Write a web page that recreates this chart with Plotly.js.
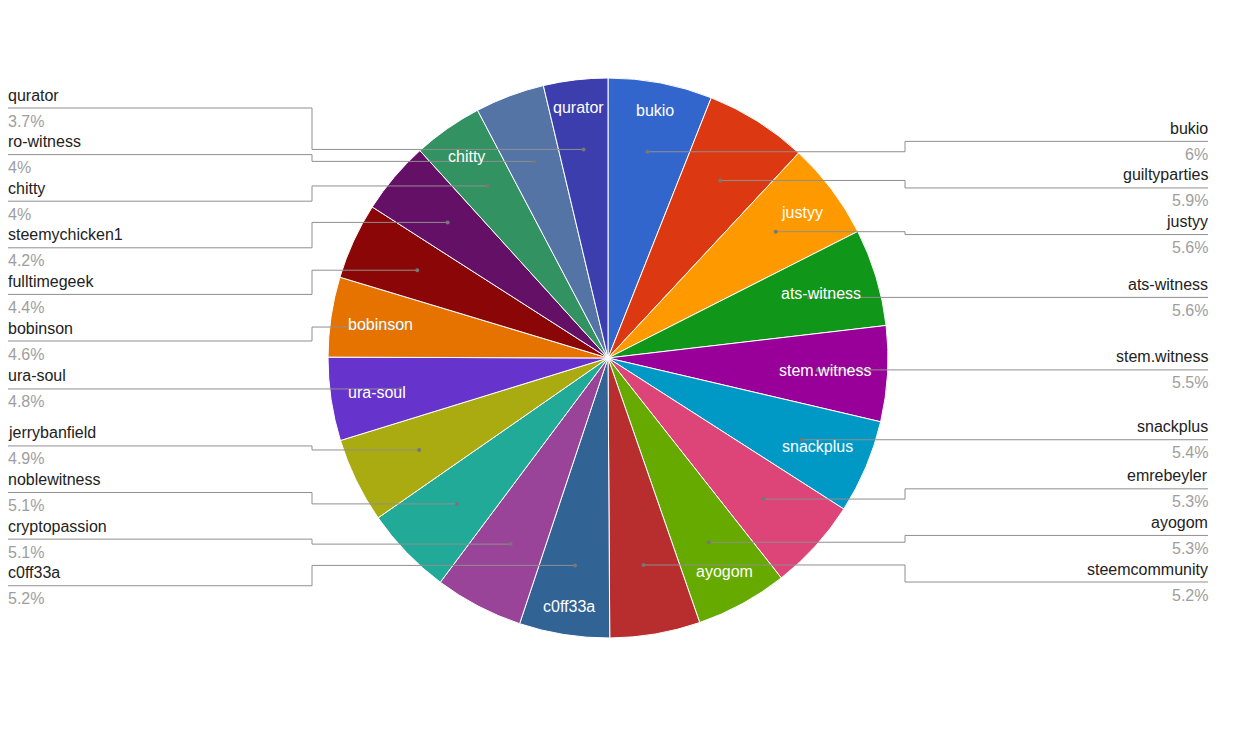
<!DOCTYPE html>
<html><head><meta charset="utf-8">
<script src="https://cdn.plot.ly/plotly-3.0.1.min.js"></script>
<style>html,body{margin:0;padding:0;background:#fff}#chart{width:1250px;height:750px}</style>
</head><body><div id="chart"></div>
<script>
// ---- data ----
const names = ['bukio','guiltyparties','justyy','ats-witness','stem.witness','snackplus','emrebeyler','ayogom','steemcommunity','c0ff33a','cryptopassion','noblewitness','jerrybanfield','ura-soul','bobinson','fulltimegeek','steemychicken1','chitty','ro-witness','qurator'];
const shares = [6, 5.9, 5.6, 5.6, 5.5, 5.4, 5.3, 5.3, 5.2, 5.2, 5.1, 5.1, 4.9, 4.8, 4.6, 4.4, 4.2, 4, 4, 3.7];
const insideLabels = ['bukio','','justyy','ats-witness','stem.witness','snackplus','','ayogom','','c0ff33a','','','','ura-soul','bobinson','','','chitty','','qurator'];
const colors = ['#3366cc','#dc3912','#ff9900','#109618','#990099','#0099c6','#dd4477','#66aa00','#b82e2e','#316395','#994499','#22aa99','#aaaa11','#6633cc','#e67300','#8b0707','#651067','#329262','#5574a6','#3b3eac'];

// ---- layout constants ----
const W = 1250, H = 750;
const CX = 608, CY = 358, R = 280;
const DOT_R = 0.75;          // relative radius of leader dots
const STEP_R = 905, STEP_L = 312;   // x of the elbow
const END_R = 1208, END_L = 8;      // x of label edge
const TEXT_NUDGE = 2;               // annotation padding compensation
const SPACING = 46.6, TOP_LIMIT = 108;
const INSIDE_PAD = 16.5;
const FONT = 'Liberation Sans, Arial, sans-serif';
const LINE_COLOR = '#8f8f8f';

const px = x => x / W;
const py = y => 1 - y / H;

const total = shares.reduce((a, b) => a + b, 0);
let cum = 0;
const mids = shares.map(v => { const m = (cum + v / 2) / total * 2 * Math.PI; cum += v; return m; });

// measure text widths
const ctx = document.createElement('canvas').getContext('2d');
ctx.font = '16px "Liberation Sans", Arial, sans-serif';

const shapes = [];
const annotations = [];

// leader items
const right = [], left = [];
names.forEach((n, i) => {
  const a = mids[i];
  const dx = CX + DOT_R * R * Math.sin(a);
  const dy = CY - DOT_R * R * Math.cos(a);
  const it = { i, dx, dy, t: dy };
  (a < Math.PI ? right : left).push(it);
});

function arrange(items) {
  items.sort((a, b) => a.t - b.t);
  const blocks = [];
  const start = b => Math.max(TOP_LIMIT, b.sum / b.items.length - (b.items.length - 1) * SPACING / 2);
  items.forEach(it => {
    blocks.push({ items: [it], sum: it.t });
    while (blocks.length > 1) {
      const b = blocks[blocks.length - 1], a = blocks[blocks.length - 2];
      const aEnd = start(a) + (a.items.length - 1) * SPACING;
      if (aEnd + SPACING > start(b) + 0.01) {
        a.items = a.items.concat(b.items); a.sum += b.sum; blocks.pop();
      } else break;
    }
  });
  blocks.forEach(b => { const s = start(b); b.items.forEach((it, k) => { it.ly = s + k * SPACING; }); });
}
arrange(right); arrange(left);

function addLeader(it, side) {
  const step = side === 'r' ? STEP_R : STEP_L;
  const end = side === 'r' ? END_R : END_L;
  shapes.push({
    type: 'path', xref: 'paper', yref: 'paper', layer: 'above',
    path: `M ${px(it.dx)},${py(it.dy)} L ${px(step)},${py(it.dy)} L ${px(step)},${py(it.ly)} L ${px(end)},${py(it.ly)}`,
    line: { color: LINE_COLOR, width: 1 }
  });
  shapes.push({
    type: 'circle', xref: 'paper', yref: 'paper', layer: 'above',
    x0: px(it.dx - 2), x1: px(it.dx + 2), y0: py(it.dy + 2), y1: py(it.dy - 2),
    fillcolor: '#777', line: { width: 0 }
  });
  const anchor = side === 'r' ? 'right' : 'left';
  const tx = side === 'r' ? end + TEXT_NUDGE : end - TEXT_NUDGE;
  annotations.push({
    text: names[it.i], xref: 'paper', yref: 'paper', x: px(tx), y: py(it.ly - 13),
    xanchor: anchor, yanchor: 'middle', showarrow: false,
    font: { family: FONT, size: 16, color: '#222222' }
  });
  annotations.push({
    text: shares[it.i] + '%', xref: 'paper', yref: 'paper', x: px(tx), y: py(it.ly + 13),
    xanchor: anchor, yanchor: 'middle', showarrow: false,
    font: { family: FONT, size: 16, color: '#9e9e9e' }
  });
}
right.forEach(it => addLeader(it, 'r'));
left.forEach(it => addLeader(it, 'l'));

// inside labels
insideLabels.forEach((t, i) => {
  if (!t) return;
  const a = mids[i];
  const w = ctx.measureText(t).width, h = 16;
  const r = R - INSIDE_PAD - Math.abs(Math.sin(a)) * w / 2 - Math.abs(Math.cos(a)) * h / 2;
  annotations.push({
    text: t, xref: 'paper', yref: 'paper',
    x: px(CX + r * Math.sin(a)), y: py(CY - r * Math.cos(a)),
    xanchor: 'center', yanchor: 'middle', showarrow: false,
    font: { family: FONT, size: 16, color: '#ffffff' }
  });
});

const trace = {
  type: 'pie', labels: names, values: shares, sort: false, direction: 'clockwise', rotation: 0,
  marker: { colors: colors, line: { color: '#ffffff', width: 1 } },
  textinfo: 'none', hoverinfo: 'none', showlegend: false,
  domain: { x: [px(CX - R), px(CX + R)], y: [py(CY + R), py(CY - R)] }
};

Plotly.newPlot('chart', [trace], {
  width: W, height: H, margin: { l: 0, r: 0, t: 0, b: 0 },
  paper_bgcolor: '#ffffff', showlegend: false,
  shapes: shapes, annotations: annotations,
  font: { family: FONT }
}, { displayModeBar: false, staticPlot: true });
</script>
</body></html>
